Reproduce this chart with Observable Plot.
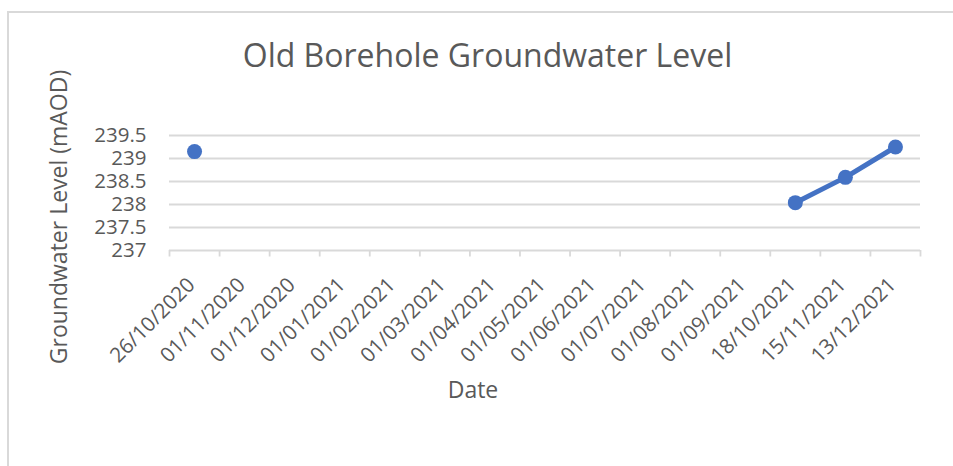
<!DOCTYPE html>
<html>
<head>
<meta charset="utf-8">
<script src="https://cdn.jsdelivr.net/npm/d3@7"></script>
<script src="https://cdn.jsdelivr.net/npm/@observablehq/plot@0.6"></script>
<style>
  html, body { margin: 0; padding: 0; background: #ffffff; }
  #wrap { position: relative; width: 953px; height: 466px; overflow: hidden; font-family: "Open Sans", sans-serif; }
  #border { position: absolute; left: 7px; top: 11px; width: 960px; height: 470px; border: 2px solid #d9d9d9; box-sizing: border-box; }
  #chart { position: absolute; left: 0; top: 0; }
  #labels { position: absolute; left: 0; top: 0; pointer-events: none; }
</style>
</head>
<body>
<div id="wrap">
  <div id="border"></div>
  <div id="chart"></div>
  <svg id="labels" width="953" height="466"></svg>
</div>
<script>
const chartTitle = "Old Borehole Groundwater Level";
const xTitle = "Date";
const yTitle = "Groundwater Level (mAOD)";

const categories = [
  "26/10/2020", "01/11/2020", "01/12/2020", "01/01/2021", "01/02/2021",
  "01/03/2021", "01/04/2021", "01/05/2021", "01/06/2021", "01/07/2021",
  "01/08/2021", "01/09/2021", "18/10/2021", "15/11/2021", "13/12/2021"
];
const levels = [
  239.15, null, null, null, null,
  null, null, null, null, null,
  null, null, 238.04, 238.59, 239.25
];
const yTicks = [237, 237.5, 238, 238.5, 239, 239.5];
const yTickLabels = ["237", "237.5", "238", "238.5", "239", "239.5"];

const table = categories.map((c, i) => ({
  i,
  category: c,
  level: levels[i] == null ? NaN : levels[i]
}));
const points = table.filter(d => !Number.isNaN(d.level));

const textColor = "#595959";
const gridColor = "#d9d9d9";
const seriesColor = "#4472C4";

const boundaries = d3.range(categories.length + 1);
const centers = categories.map((c, i) => i + 0.5);

const plot = Plot.plot({
  width: 953,
  height: 466,
  marginLeft: 169,
  marginRight: 33,
  marginTop: 135,
  marginBottom: 216,
  style: { fontFamily: "'Open Sans', sans-serif", color: textColor, background: "transparent", overflow: "visible" },
  x: { type: "linear", domain: [0, categories.length] },
  y: { domain: [237, 239.5] },
  marks: [
    Plot.ruleY(yTicks, { stroke: gridColor, strokeWidth: 1.8 }),
    Plot.axisY({
      ticks: yTicks,
      tickSize: 0,
      tickPadding: 23,
      tickFormat: d => yTickLabels[yTicks.indexOf(d)],
      fontSize: 20.5,
      fill: textColor,
      label: null
    }),
    Plot.axisX({
      ticks: boundaries,
      tickSize: 6.5,
      stroke: gridColor,
      strokeWidth: 1.8,
      tickFormat: () => "",
      label: null
    }),
    Plot.axisX({
      ticks: centers,
      tickSize: 0,
      tickPadding: 31,
      dx: -3,
      tickRotate: -45,
      tickFormat: d => categories[Math.round(d - 0.5)],
      fontSize: 20.7,
      fill: textColor,
      label: null
    }),
    Plot.line(table, { x: d => d.i + 0.5, y: "level", stroke: seriesColor, strokeWidth: 5, strokeLinecap: "round", strokeLinejoin: "round" }),
    Plot.dot(points, { x: d => d.i + 0.5, y: "level", r: 7.5, fill: seriesColor, stroke: "none" })
  ]
});
document.getElementById("chart").appendChild(plot);

const svg = d3.select("#labels");
svg.append("text")
  .attr("x", 487.5).attr("y", 67)
  .attr("text-anchor", "middle")
  .attr("fill", textColor)
  .style("font-family", "'Open Sans', sans-serif")
  .style("font-size", "32px")
  .text(chartTitle);
svg.append("text")
  .attr("x", 473).attr("y", 398)
  .attr("text-anchor", "middle")
  .attr("fill", textColor)
  .style("font-family", "'Open Sans', sans-serif")
  .style("font-size", "23px")
  .text(xTitle);
svg.append("text")
  .attr("transform", "translate(67,217) rotate(-90)")
  .attr("text-anchor", "middle")
  .attr("fill", textColor)
  .style("font-family", "'Open Sans', sans-serif")
  .style("font-size", "23px")
  .text(yTitle);
</script>
</body>
</html>
